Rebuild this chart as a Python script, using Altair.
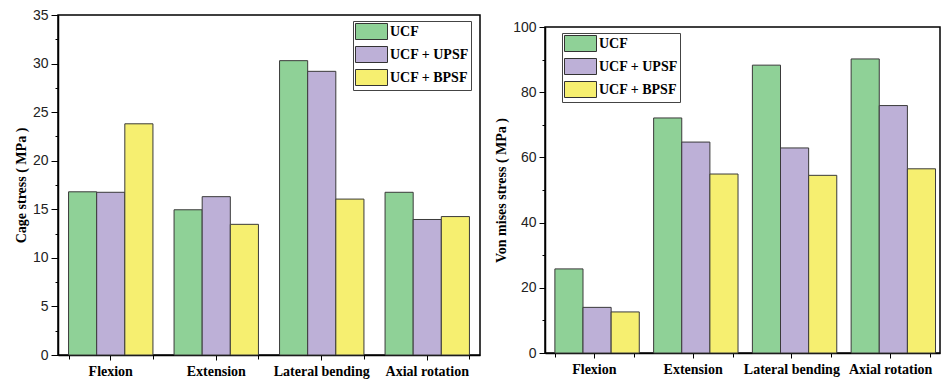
import altair as alt
import pandas as pd

categories = ["Flexion", "Extension", "Lateral bending", "Axial rotation"]
series = ["UCF", "UCF + UPSF", "UCF + BPSF"]
colors = ["#8fd197", "#bdb0d7", "#f6ef70"]

cage_ucf = [16.8, 14.95, 30.3, 16.75]
cage_upsf = [16.75, 16.3, 29.2, 13.95]
cage_bpsf = [23.8, 13.45, 16.05, 14.25]

vm_ucf = [25.8, 72.1, 88.3, 90.2]
vm_upsf = [14.0, 64.7, 62.9, 75.9]
vm_bpsf = [12.6, 54.9, 54.5, 56.5]

cage_ticks = [i * 2.5 for i in range(15)]
vm_ticks = [i * 10 for i in range(11)]


def make_df(a, b, c):
    rows = []
    for s, vals in zip(series, [a, b, c]):
        for cat, v in zip(categories, vals):
            rows.append({"cat": cat, "series": s, "value": v})
    return pd.DataFrame(rows)


SERIF = "Liberation Serif"
SANS = "Liberation Sans"


def panel(df, ytitle, dmax, ticks, major, w, h, lx, ly, majsize):
    legend = alt.Legend(
        title=None, orient="none", legendX=lx, legendY=ly,
        symbolType="M-2,-1H2V1H-2Z", symbolSize=256, symbolOffset=8,
        symbolStrokeColor="#333333", symbolStrokeWidth=1,
        labelFont=SERIF, labelFontSize=14, labelFontWeight="bold",
        labelColor="black", labelOffset=10, rowPadding=2,
        strokeColor="#444444", padding=2, fillColor="white",
    )
    xscale = alt.Scale(paddingInner=0.2, paddingOuter=0.1)
    yscale = alt.Scale(domain=[0, dmax], nice=False)
    bars = alt.Chart(df).mark_bar(stroke="#3a3a3a", strokeWidth=1).encode(
        x=alt.X("cat:N", sort=categories, title=None, scale=xscale,
                axis=alt.Axis(orient="bottom", labelFont=SERIF, labelFontSize=14,
                              labelFontWeight="bold", labelColor="black", labelAngle=0,
                              tickSize=5, tickColor="black", domainColor="black",
                              domainWidth=1.5, labelPadding=4)),
        xOffset=alt.XOffset("series:N", sort=series,
                            scale=alt.Scale(paddingInner=0, paddingOuter=0)),
        y=alt.Y("value:Q", title=ytitle, scale=yscale,
                axis=alt.Axis(values=ticks, grid=False,
                              labelExpr=f"datum.value % {major} === 0 ? datum.label : ''",
                              labelFont=SANS, labelFontSize=14, labelColor="#222222",
                              tickColor="black", domainColor="black", domainWidth=1.5,
                              tickSize={"condition": {"test": f"datum.value % {major} === 0",
                                                      "value": majsize}, "value": 3},
                              labelPadding=3, titleFont=SERIF, titleFontSize=14,
                              titleFontWeight="bold", titleColor="black", titlePadding=4)),
        color=alt.Color("series:N", sort=series,
                        scale=alt.Scale(domain=series, range=colors), legend=legend),
    )
    edges = alt.Chart(df).mark_bar(opacity=0).encode(
        x=alt.X("cat:N", sort=categories, title=None, scale=xscale,
                axis=alt.Axis(orient="bottom", labels=False, domain=False,
                              tickBand="extent", tickSize=4, tickColor="black")),
    )
    return alt.layer(bars, edges).resolve_axis(x="independent").properties(width=w, height=h)


left = panel(make_df(cage_ucf, cage_upsf, cage_bpsf), "Cage stress ( MPa )", 35, cage_ticks, 5,
             422, 340, 295, 6, 7)
right = panel(make_df(vm_ucf, vm_upsf, vm_bpsf), "Von mises stress ( MPa )", 100, vm_ticks, 20,
              395, 326, 17, 6, 6)

spacer = alt.Chart(pd.DataFrame({"a": [0]})).mark_point(opacity=0).encode(
    x=alt.value(0), y=alt.value(0)
).properties(width=395, height=1, view=alt.ViewBackground(stroke="transparent"))

right_col = alt.vconcat(spacer, right, spacing=0).resolve_legend(color="independent")

chart = alt.hconcat(left, right_col, spacing=12).resolve_legend(
    color="independent"
).resolve_scale(color="independent").configure_view(
    stroke="black", strokeWidth=1.5
).properties(
    padding={"left": 13, "top": 7, "right": 0, "bottom": 0},
    background="white",
)

chart.save("out.html", embed_options={"renderer": "svg", "actions": False})
